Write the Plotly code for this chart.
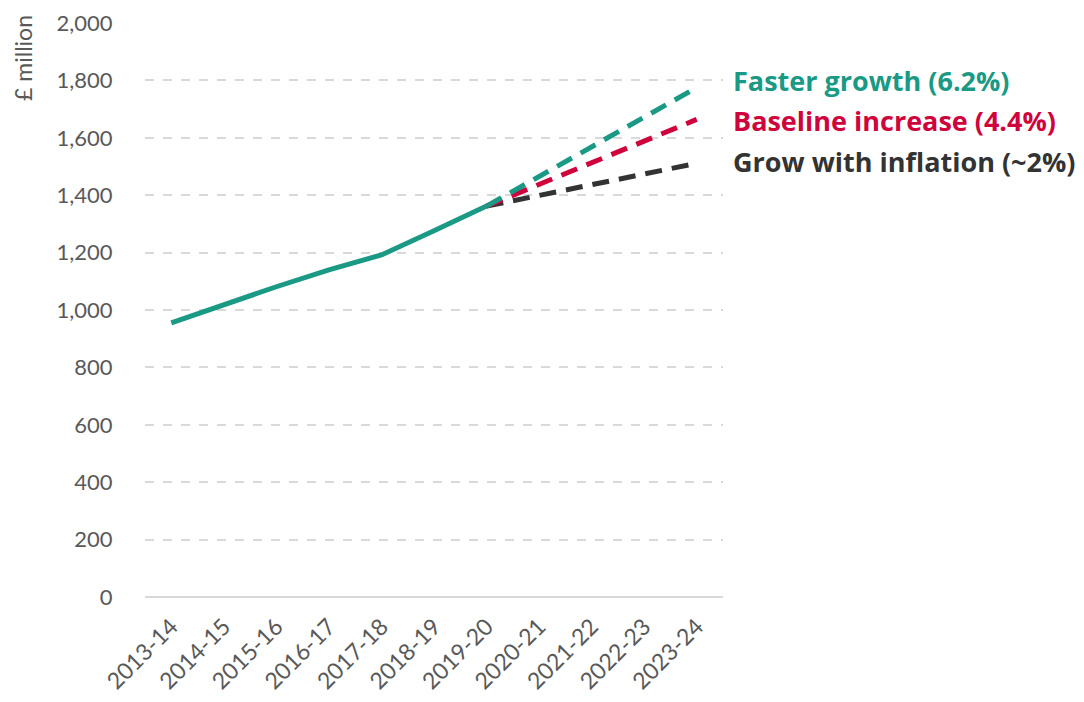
import plotly.graph_objects as go

years = ["2013-14", "2014-15", "2015-16", "2016-17", "2017-18", "2018-19",
         "2019-20", "2020-21", "2021-22", "2022-23", "2023-24"]
actual = [955, 1019, 1081, 1140, 1192, 1276, 1362]
proj_years = ["2019-20", "2020-21", "2021-22", "2022-23", "2023-24"]
faster = [1362, 1465, 1568, 1672, 1775]
baseline = [1362, 1437, 1512, 1588, 1664]
inflation = [1362, 1399, 1436, 1474, 1511]

TEAL = "#1a9985"
RED = "#d0043c"
DARK = "#333333"
GREY = "#595959"
FONT = "Lato, 'Open Sans', sans-serif"
LFONT = "'Open Sans', Lato, sans-serif"

fig = go.Figure()
for vals, col in [(inflation, DARK), (baseline, RED), (faster, TEAL)]:
    fig.add_trace(go.Scatter(x=proj_years, y=vals, mode="lines",
                             line=dict(color=col, width=5, dash="17px,10px"),
                             hoverinfo="skip", showlegend=False))
fig.add_trace(go.Scatter(x=years[:len(actual)], y=actual, mode="lines",
                         line=dict(color=TEAL, width=5), showlegend=False))

labels = [("Faster growth (6.2%)", TEAL, 1799),
          ("Baseline increase (4.4%)", RED, 1660),
          ("Grow with inflation (~2%)", DARK, 1518)]
for txt, col, yv in labels:
    fig.add_annotation(text=f"<b>{txt}</b>", xref="paper", yref="y", x=1.013, y=yv,
                       xanchor="left", yanchor="middle", showarrow=False,
                       font=dict(family=LFONT, size=27, color=col))

fig.add_annotation(text="£ million", xref="paper", yref="paper", x=-0.24, y=1.018,
                   textangle=-90, xanchor="left", yanchor="top", showarrow=False,
                   font=dict(family=FONT, size=23, color=GREY))

fig.update_layout(
    width=1084, height=702,
    margin=dict(l=137, r=369, t=15, b=113),
    paper_bgcolor="white", plot_bgcolor="white",
    font=dict(family=FONT, color=GREY),
    xaxis=dict(categoryorder="array", categoryarray=years, range=[-0.5, 10.5],
               tickangle=-45, tickfont=dict(size=23, color=GREY),
               showgrid=False, showline=False, ticks="outside", tickcolor="white",
               ticklen=6, automargin=False, ticklabeloverflow="allow"),
    yaxis=dict(range=[0, 2000], dtick=200, tickformat=",",
               tickfont=dict(size=22, color=GREY),
               showgrid=True, gridcolor="#d9d9d9", griddash="dash", gridwidth=1.5,
               zeroline=True, zerolinecolor="#d9d9d9", zerolinewidth=2,
               ticks="outside", tickcolor="white", ticklen=27,
               showline=False, automargin=False, ticklabeloverflow="allow"),
)

fig.write_html("out.html")
